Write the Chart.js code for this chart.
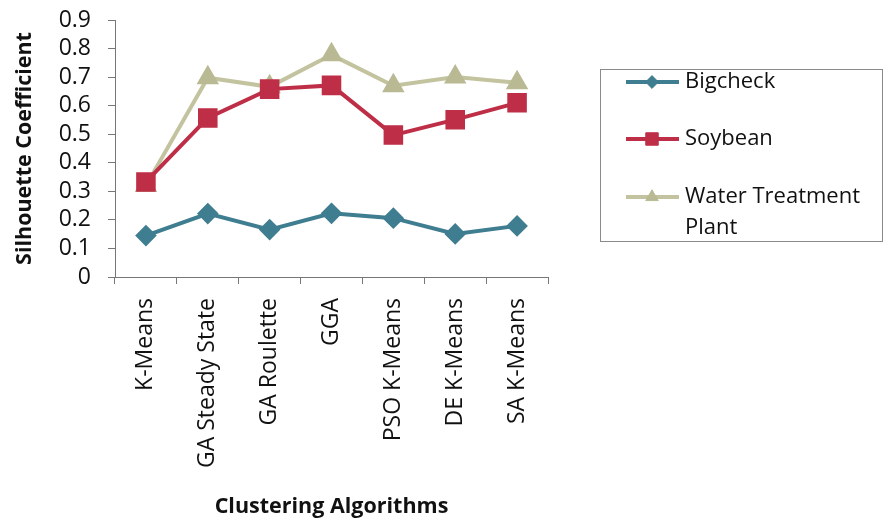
<!DOCTYPE html>
<html>
<head>
<meta charset="utf-8">
<script src="https://cdn.jsdelivr.net/npm/chart.js@4"></script>
<style>
  html, body { margin: 0; padding: 0; background: #fff; }
  #wrap { width: 885px; height: 526px; }
</style>
</head>
<body>
<div id="wrap"><canvas id="myChart" width="885" height="526"></canvas></div>
<script>
// categorias y valores
const algorithms = ['K-Means', 'GA Steady State', 'GA Roulette', 'GGA', 'PSO K-Means', 'DE K-Means', 'SA K-Means'];
const bigcheck = [0.145, 0.222, 0.166, 0.223, 0.206, 0.151, 0.179];
const soybean = [0.333, 0.557, 0.658, 0.671, 0.497, 0.551, 0.610];
const waterPlant = [0.320, 0.698, 0.666, 0.778, 0.670, 0.700, 0.680];
const seriesNames = ['Bigcheck', 'Soybean', ['Water Treatment', 'Plant']];

const fontFam = '"Open Sans", sans-serif';

// leyenda dibujada a mano (caja a la derecha)
const boxLegend = {
    id: 'boxLegend',
    afterDraw(chart) {
        const ctx = chart.ctx;
        ctx.save();
        ctx.strokeStyle = '#8a8a8a';
        ctx.lineWidth = 1;
        ctx.strokeRect(600.5, 69.5, 282, 172);
        const rows = [82, 139, 197];
        chart.data.datasets.forEach((ds, i) => {
            const y = rows[i];
            ctx.strokeStyle = ds.borderColor;
            ctx.lineWidth = 4;
            ctx.beginPath();
            ctx.moveTo(626, y);
            ctx.lineTo(679, y);
            ctx.stroke();
            ctx.fillStyle = ds.pointBackgroundColor;
            ctx.strokeStyle = ds.pointBorderColor;
            ctx.lineWidth = 1;
            Chart.helpers.drawPoint(ctx, {
                pointStyle: ds.pointStyle,
                radius: ds.pointRadius * 0.8,
                borderWidth: 1
            }, 652, y);
            ctx.fillStyle = '#111';
            ctx.font = '22px ' + fontFam;
            ctx.textBaseline = 'middle';
            const lbl = seriesNames[i];
            if (Array.isArray(lbl)) {
                lbl.forEach((t, k) => ctx.fillText(t, 685, y + k * 31));
            } else {
                ctx.fillText(lbl, 685, y);
            }
        });
        ctx.restore();
    }
};

const ctx = document.getElementById('myChart').getContext('2d');
const myChart = new Chart(ctx, {
    type: 'line',
    data: {
        labels: algorithms,
        datasets: [{
            label: 'Bigcheck',
            data: bigcheck,
            borderColor: '#3f7d90',
            backgroundColor: '#3f7d90',
            pointBackgroundColor: '#3f7d90',
            pointBorderColor: '#3f7d90',
            pointStyle: 'rectRot',
            pointRadius: 8,
            borderWidth: 4
        }, {
            label: 'Soybean',
            data: soybean,
            borderColor: '#be2f47',
            backgroundColor: '#be2f47',
            pointBackgroundColor: '#be2f47',
            pointBorderColor: '#be2f47',
            pointStyle: 'rect',
            pointRadius: 11,
            borderWidth: 4
        }, {
            label: 'Water Treatment Plant',
            data: waterPlant,
            borderColor: '#c3c49f',
            backgroundColor: '#c3c49f',
            pointBackgroundColor: '#b9ba94',
            pointBorderColor: '#b9ba94',
            pointStyle: 'triangle',
            pointRadius: 9,
            borderWidth: 4
        }]
    },
    options: {
        responsive: false,
        animation: false,
        layout: { padding: { top: 20, right: 337, left: 0, bottom: 0 } },
        plugins: {
            legend: { display: false },
            tooltip: { enabled: false }
        },
        elements: { line: { tension: 0 } },
        scales: {
            x: {
                offset: true,
                grid: { display: true, offset: true, drawOnChartArea: false, tickLength: 7, color: '#777' },
                border: { color: '#777', width: 1 },
                ticks: {
                    minRotation: 90, maxRotation: 90, padding: 14, autoSkip: false,
                    color: '#111', font: { family: fontFam, size: 23 }
                },
                title: {
                    display: true, text: 'Clustering Algorithms', color: '#111',
                    font: { family: fontFam, size: 21.5, weight: 'bold' },
                    padding: { top: 0, bottom: 6 }
                },
                afterFit: s => { s.height = 249; }
            },
            y: {
                min: 0, max: 0.9,
                grid: { display: true, drawOnChartArea: false, tickLength: 7, color: '#777' },
                border: { color: '#777', width: 1 },
                ticks: {
                    stepSize: 0.1, padding: 17, color: '#111', autoSkip: false,
                    font: { family: fontFam, size: 23 },
                    callback: v => Math.round(v * 10) / 10
                },
                title: {
                    display: true, text: 'Silhouette Coefficient', color: '#111',
                    font: { family: fontFam, size: 21.5, weight: 'bold' },
                    padding: { top: 12, bottom: 0 }
                },
                afterFit: s => { s.width = 115; s.paddingTop = 0; s.paddingBottom = 0; }
            }
        }
    },
    plugins: [boxLegend]
});
</script>
</body>
</html>
